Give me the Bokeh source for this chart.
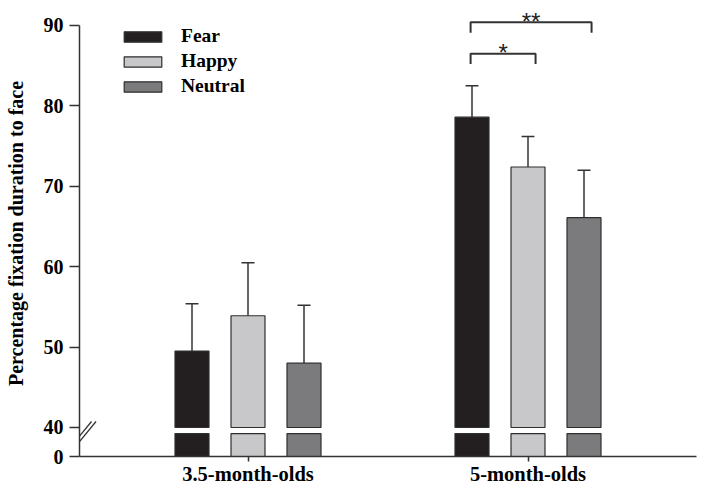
from bokeh.plotting import figure
from bokeh.models import (ColumnDataSource, Whisker, TeeHead, Legend, LegendItem,
                          FixedTicker, Range1d, Arrow)
from bokeh.embed import file_html
from bokeh.resources import INLINE
from bokeh.core.properties import value

# ---------------- data ----------------
groups = ["3.5-month-olds", "5-month-olds"]
emotions = ["Fear", "Happy", "Neutral"]
fear = [49.5, 78.6]
happy = [53.9, 72.4]
neutral = [48.0, 66.1]
fear_err = [5.9, 3.9]
happy_err = [6.6, 3.8]
neutral_err = [7.2, 5.9]
y_ticks = [0, 40, 50, 60, 70, 80, 90]
# significance brackets (group index, from emotion, to emotion, label, height)
sig_group = [1, 1]
sig_from = ["Fear", "Fear"]
sig_to = ["Happy", "Neutral"]
sig_label = ["*", "**"]
sig_height = [86.5, 90.4]

colors = ["#231f20", "#c8c8ca", "#7b7b7d"]
outline = "#2e2e2e"
FONT = "Liberation Serif"

# ---------------- broken-axis mapping ----------------
BREAK = 40.0
LOW_SPAN = 3.607          # display units used for 0..40
GAP = 0.75                # white gap below the break inside the bars


def disp(v):
    return v if v >= BREAK else BREAK - (BREAK - v) * LOW_SPAN / BREAK


group_pos = [1.0, 2.0]
offset = 0.2
bar_w = 0.1214

x_start = 1.0 - 168.5 / 280
x_end = x_start + 617 / 280
y_start = disp(0)
y_end = y_start + 446 / 8.04

p = figure(width=704, height=492, output_backend="svg", toolbar_location=None,
           x_range=Range1d(x_start, x_end), y_range=Range1d(y_start, y_end),
           min_border_left=79, min_border_right=8, min_border_top=10,
           min_border_bottom=36)
p.outline_line_color = None
p.xgrid.visible = False
p.ygrid.visible = False
p.background_fill_color = "white"

series = [fear, happy, neutral]
errs = [fear_err, happy_err, neutral_err]
renderers = []
for i, (name, vals, err, col) in enumerate(zip(emotions, series, errs, colors)):
    xs = [g + (i - 1) * offset for g in group_pos]
    src = ColumnDataSource(dict(x=xs, top=vals, low_top=[BREAK - GAP] * len(xs),
                                bottom=[disp(0)] * len(xs),
                                upper=[v + e for v, e in zip(vals, err)]))
    r = p.vbar(x="x", top="top", bottom=BREAK, width=bar_w, source=src,
               fill_color=col, line_color=outline, line_width=1.2)
    p.vbar(x="x", top="low_top", bottom="bottom", width=bar_w, source=src,
           fill_color=col, line_color=outline, line_width=1.2)
    w = Whisker(base="x", lower="top", upper="upper", source=src,
                line_color="#333333", line_width=1.5, lower_head=None,
                upper_head=TeeHead(size=13, line_color="#333333", line_width=1.5))
    p.add_layout(w)
    renderers.append(r)

# significance brackets
bx, by, tx, ty = [], [], [], []
for g, a, b, h in zip(sig_group, sig_from, sig_to, sig_height):
    x1 = group_pos[g] + (emotions.index(a) - 1) * offset - 0.005
    x2 = group_pos[g] + (emotions.index(b) - 1) * offset + 0.027
    bx.append([x1, x1, x2, x2])
    by.append([h - 1.3, h, h, h - 1.3])
    tx.append((x1 + x2) / 2)
    ty.append(h + 0.12)
p.multi_line(xs=bx, ys=by, line_color="#333333", line_width=2)
p.text(x=tx, y=ty, text=sig_label, text_align="center", text_baseline="alphabetic",
       text_font=value("Liberation Sans"), text_font_size="24px", text_color="#222222")

# axes
p.xaxis.ticker = FixedTicker(ticks=group_pos)
p.xaxis.major_label_overrides = {g: l for g, l in zip(group_pos, groups)}
p.xaxis.minor_tick_line_color = None
p.xaxis.major_tick_in = 0
p.xaxis.major_tick_out = 5
p.xaxis.major_label_text_font = FONT
p.xaxis.major_label_text_font_style = "bold"
p.xaxis.major_label_text_font_size = "20.5px"
p.xaxis.major_label_text_color = "black"
p.xaxis.major_label_standoff = 1

p.yaxis.ticker = FixedTicker(ticks=[disp(t) for t in y_ticks])
p.yaxis.major_label_overrides = {disp(t): str(t) for t in y_ticks}
p.yaxis.bounds = (disp(0), 90)
p.yaxis.minor_tick_line_color = None
p.yaxis.major_tick_in = 0
p.yaxis.major_tick_out = 10
p.yaxis.major_label_text_font = FONT
p.yaxis.major_label_text_font_style = "bold"
p.yaxis.major_label_text_font_size = "20px"
p.yaxis.major_label_text_color = "black"
p.yaxis.major_label_standoff = 6
p.yaxis.axis_label = "Percentage fixation duration to face"
p.yaxis.axis_label_text_font = FONT
p.yaxis.axis_label_text_font_style = "bold"
p.yaxis.axis_label_text_font_size = "20px"
p.yaxis.axis_label_text_color = "black"
p.yaxis.axis_label_standoff = 14

for ax in (p.xaxis, p.yaxis):
    ax.axis_line_color = "#333333"
    ax.axis_line_width = 1.5
    ax.major_tick_line_color = "#333333"
    ax.major_tick_line_width = 1.5

# axis break marks "//"
px = 280.0
for dx in (0.0, 4.5):
    p.add_layout(Arrow(end=None, x_start=x_start + (-11 + dx) / px, y_start=disp(0) + (11 - 4) / 8.04,
                       x_end=x_start + (12 + dx) / px, y_end=BREAK + 10 / 8.04 - 4 / 8.04,
                       line_color="#333333", line_width=1.3))

legend = Legend(items=[LegendItem(label=n, renderers=[r]) for n, r in zip(emotions, renderers)],
                location=(40, 359), glyph_width=47, glyph_height=13, label_height=20,
                label_standoff=15, spacing=3, padding=0, margin=0,
                border_line_color=None, background_fill_alpha=0,
                label_text_font=FONT, label_text_font_style="bold",
                label_text_font_size="19.5px", label_text_color="black")
p.add_layout(legend)

open("out.html", "w").write(file_html(p, INLINE))
